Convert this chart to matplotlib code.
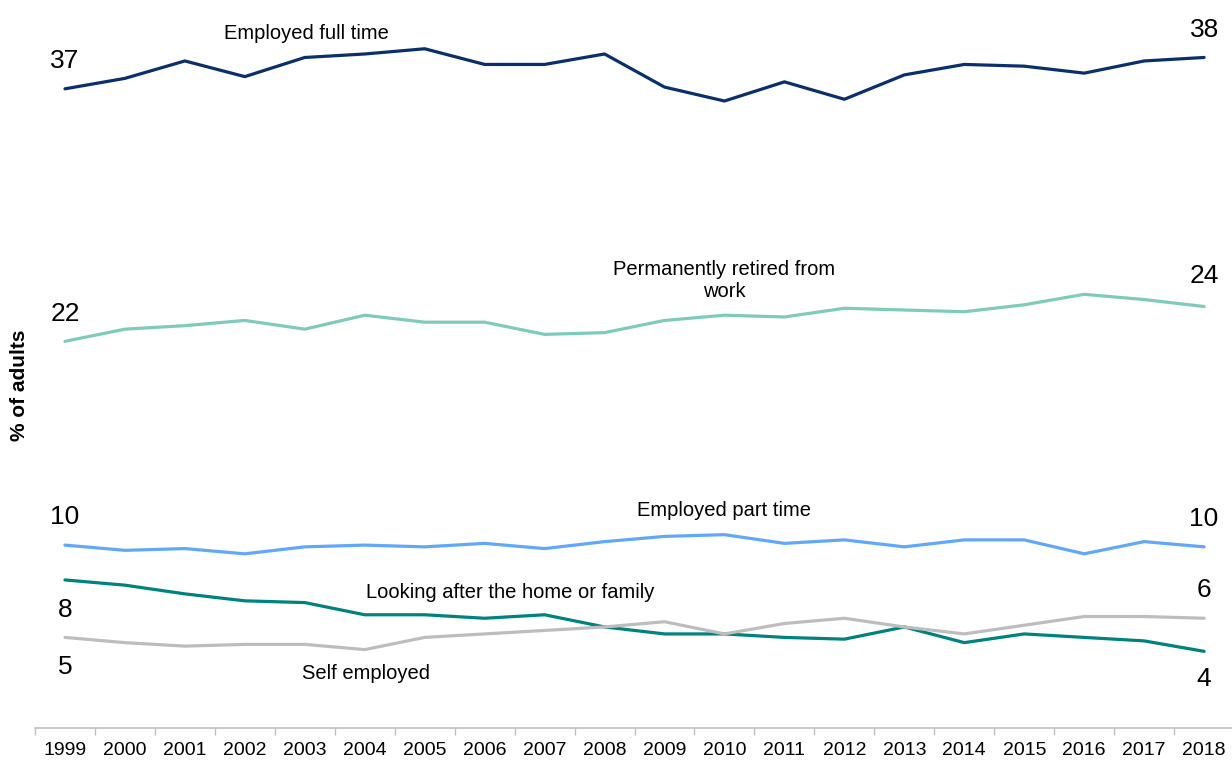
import matplotlib
matplotlib.use("Agg")
import matplotlib.pyplot as plt
from matplotlib.ticker import FixedLocator

years = [str(y) for y in range(1999, 2019)]

full_time = [36.6, 37.2, 38.2, 37.3, 38.4, 38.6, 38.9, 38.0, 38.0, 38.6,
             36.7, 35.9, 37.0, 36.0, 37.4, 38.0, 37.9, 37.5, 38.2, 38.4]
retired = [22.1, 22.8, 23.0, 23.3, 22.8, 23.6, 23.2, 23.2, 22.5, 22.6,
           23.3, 23.6, 23.5, 24.0, 23.9, 23.8, 24.2, 24.8, 24.5, 24.1]
part_time = [10.4, 10.1, 10.2, 9.9, 10.3, 10.4, 10.3, 10.5, 10.2, 10.6,
             10.9, 11.0, 10.5, 10.7, 10.3, 10.7, 10.7, 9.9, 10.6, 10.3]
home_family = [8.4, 8.1, 7.6, 7.2, 7.1, 6.4, 6.4, 6.2, 6.4, 5.7,
               5.3, 5.3, 5.1, 5.0, 5.7, 4.8, 5.3, 5.1, 4.9, 4.3]
self_employed = [5.1, 4.8, 4.6, 4.7, 4.7, 4.4, 5.1, 5.3, 5.5, 5.7,
                 6.0, 5.3, 5.9, 6.2, 5.7, 5.3, 5.8, 6.3, 6.3, 6.2]

series_names = ["Employed full time", "Permanently retired from\nwork",
                "Employed part time", "Looking after the home or family",
                "Self employed"]

plt.rcParams['font.family'] = ['Liberation Sans', 'DejaVu Sans']

fig = plt.figure(figsize=(12.32, 7.61), dpi=100)
ax = fig.add_axes([0.0284, 0.0434, 0.9733, 0.9566])

x = list(range(len(years)))
series = [
    (full_time, '#0A2F6C', series_names[0], (4.02, 39.8), (20, 20)),
    (retired, '#7FCBBA', series_names[1], (11.0, 25.6), (20, 22)),
    (part_time, '#62A8FA', series_names[2], (11.0, 12.4), (20, 20)),
    (home_family, '#00827E', series_names[3], (7.42, 7.7), (-22, -20)),
    (self_employed, '#BDBDBD', series_names[4], (5.02, 3.05), (-21, 20)),
]

for vals, col, name, lpos, offs in series:
    ax.plot(x, vals, color=col, lw=2.3, solid_capstyle='round', zorder=3)
    ax.text(lpos[0], lpos[1], name, ha='center', va='center', fontsize=14.5,
            color='#000000', linespacing=1.15)
    ax.annotate(f"{round(vals[0])}", xy=(x[0], vals[0]), xytext=(0, offs[0]),
                textcoords='offset points', ha='center', va='center', fontsize=19)
    ax.annotate(f"{round(vals[-1])}", xy=(x[-1], vals[-1]), xytext=(0, offs[1]),
                textcoords='offset points', ha='center', va='center', fontsize=19)

ax.set_xlim(-0.5, len(years) - 0.5)
ax.set_ylim(-0.1, 41.7)
ax.set_xticks(x)
ax.set_xticklabels(years, fontsize=14)
ax.xaxis.set_minor_locator(FixedLocator([i - 0.5 for i in range(len(years) + 1)]))
ax.tick_params(axis='x', which='major', length=0, pad=10)
ax.tick_params(axis='x', which='minor', length=5, width=1, color='#BFBFBF')
ax.set_yticks([])
for s in ['left', 'top', 'right']:
    ax.spines[s].set_visible(False)
ax.spines['bottom'].set_color('#BFBFBF')
ax.spines['bottom'].set_linewidth(1.2)

fig.text(20 / 1232, 1 - 385 / 761, "% of adults", rotation=90, ha='center',
         va='center', fontsize=15, fontweight='bold')

fig.savefig("out.png", dpi=100)
